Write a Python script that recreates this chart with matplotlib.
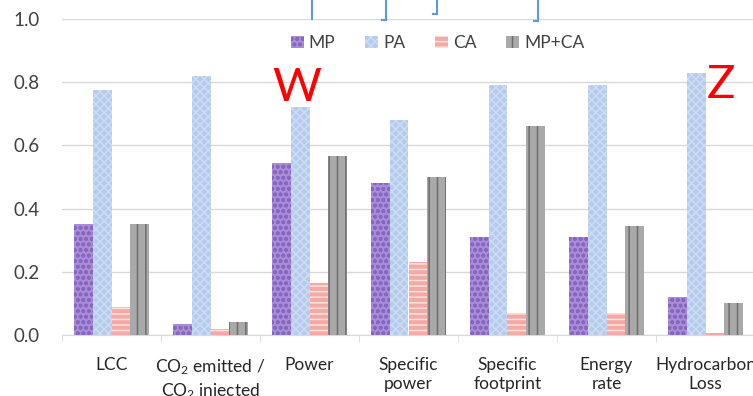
import matplotlib
matplotlib.use("Agg")
import matplotlib.pyplot as plt
from matplotlib.lines import Line2D
import numpy as np

# ---------------- data ----------------
categories = ["LCC", "CO$_2$ emitted /\nCO$_2$ injected", "Power", "Specific\npower",
              "Specific\nfootprint", "Energy\nrate", "Hydrocarbon\nLoss"]
series_names = ["MP", "PA", "CA", "MP+CA"]
mp = [0.35, 0.035, 0.545, 0.48, 0.31, 0.31, 0.12]
pa = [0.775, 0.82, 0.72, 0.68, 0.79, 0.79, 0.83]
ca = [0.09, 0.02, 0.165, 0.23, 0.07, 0.07, 0.005]
mpca = [0.35, 0.04, 0.565, 0.50, 0.66, 0.345, 0.10]
yticks = [0.0, 0.2, 0.4, 0.6, 0.8, 1.0]

# ---------------- style ----------------
plt.rcParams['font.family'] = ['Lato', 'DejaVu Sans']
plt.rcParams['mathtext.default'] = 'regular'
plt.rcParams['hatch.linewidth'] = 1.1

face = ["#a98bd8", "#b4cbee", "#f3aaa4", "#a9a9a9"]
hatch_col = ["#8468bf", "#cddcf3", "#fbe2df", "#6e6e6e"]
hatches = ["ooo", "xxxx", "---", "||"]

W, H = 753, 396
fig = plt.figure(figsize=(W / 100, H / 100), dpi=100)
ax = fig.add_axes([62 / W, (H - 335) / H, 693 / W, 316 / H])

x = np.arange(len(categories))
bw = 0.187
data = [mp, pa, ca, mpca]
for i, vals in enumerate(data):
    off = (i - 1.5) * bw
    ax.bar(x + off, vals, bw, color=face[i], edgecolor=hatch_col[i],
           hatch=hatches[i], linewidth=0, label=series_names[i], zorder=3)

ax.set_xlim(-0.5, len(categories) - 0.5)
ax.set_ylim(0, 1.0)
ax.set_yticks(yticks)
ax.set_yticklabels(["%.1f" % v for v in yticks], fontsize=13.5, color="#404040")
ax.tick_params(axis='y', length=0, pad=16)
ax.grid(axis='y', color="#d9d9d9", linewidth=1, zorder=0)

ax.set_xticks(x)
ax.set_xticklabels(categories, fontsize=12.5, color="#262626", linespacing=1.25)
ax.set_xticks(np.arange(len(categories) + 1) - 0.5, minor=True)
ax.tick_params(axis='x', which='major', length=0, pad=16)
ax.tick_params(axis='x', which='minor', length=5, color="#d9d9d9", direction='out')

for s in ["top", "right", "left"]:
    ax.spines[s].set_visible(False)
ax.spines["bottom"].set_color("#d9d9d9")

leg = fig.legend(loc='center', bbox_to_anchor=(0.581, 1 - 43 / H), ncol=4, frameon=False,
                 fontsize=12.5, handlelength=0.75, handleheight=0.75, handletextpad=0.3,
                 columnspacing=1.7, labelcolor="#404040")

# red markers
fig.text(297 / W, 1 - 88 / H, "W", color="red", fontsize=34, ha='center', va='center')
fig.text(721 / W, 1 - 85 / H, "Z", color="red", fontsize=34, ha='center', va='center')

# blue bracket lines at top
blue = "#5b9bd5"
for px, py in [(312, 19), (386, 20), (437, 14), (538, 21)]:
    fig.add_artist(Line2D([px / W, px / W], [1, 1 - py / H], color=blue, lw=1.5))
for px, py in [(386, 20), (437, 14), (538, 21)]:
    fig.add_artist(Line2D([(px - 4) / W, px / W], [1 - py / H, 1 - py / H], color=blue, lw=1.5))

fig.savefig("out.png", dpi=100)
